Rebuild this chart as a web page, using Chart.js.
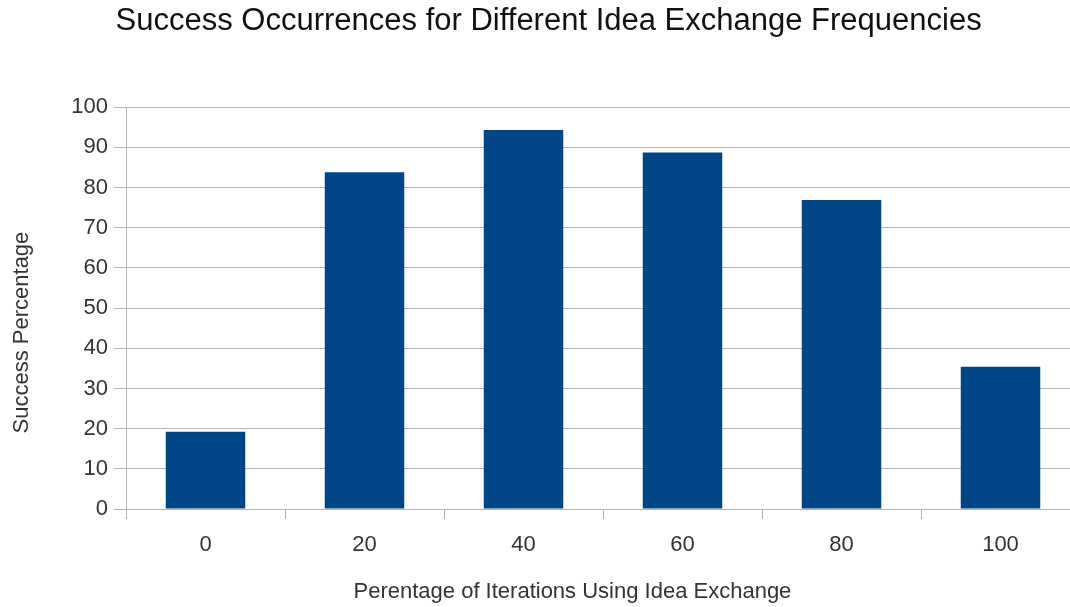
<!DOCTYPE html>
<html>
<head>
<meta charset="utf-8">
<script src="https://cdn.jsdelivr.net/npm/chart.js@4/dist/chart.umd.min.js"></script>
<style>
  html, body { margin: 0; padding: 0; background: #fff; overflow: hidden; }
  #wrap { width: 1080px; height: 607px; }
</style>
</head>
<body>
<div id="wrap"><canvas id="successChart" width="1080" height="607"></canvas></div>
<script>
// Data
const exchangeLevels = ["0", "20", "40", "60", "80", "100"];
const successPercent = [19.2, 83.8, 94.3, 88.7, 76.9, 35.4];
const yTicks = [0, 10, 20, 30, 40, 50, 60, 70, 80, 90, 100];

const barColor = "#004586";
const gridColor = "#b3b3b3";
const textColor = "#333333";
const fontFamily = "'Liberation Sans', Arial, sans-serif";

// trailing / leading spaces nudge the centred titles to where the reference has them
const chartTitle = "  Success Occurrences for Different Idea Exchange Frequencies";
const xTitle = "Perentage of Iterations Using Idea Exchange" + " ".repeat(10);
const yTitle = "Success Percentage" + " ".repeat(8);

const ctx = document.getElementById("successChart").getContext("2d");
new Chart(ctx, {
    type: "bar",
    data: {
        labels: exchangeLevels,
        datasets: [{
            label: "Success Percentage",
            data: successPercent,
            backgroundColor: barColor,
            borderWidth: 0,
            barPercentage: 0.5,
            categoryPercentage: 1.0,
        }],
    },
    options: {
        responsive: false,
        animation: false,
        layout: { padding: 0 },
        plugins: {
            legend: { display: false },
            tooltip: { enabled: false },
            title: {
                display: true,
                text: chartTitle,
                color: "#111",
                font: { family: fontFamily, size: 31, weight: "normal" },
                padding: { top: 3, bottom: 67 },
            },
        },
        scales: {
            x: {
                offset: true,
                grid: {
                    offset: true,
                    drawOnChartArea: false,
                    tickLength: 10,
                    color: gridColor,
                },
                border: { display: true, color: gridColor },
                ticks: {
                    color: textColor,
                    padding: 13,
                    font: { family: fontFamily, size: 22 },
                },
                title: {
                    display: true,
                    text: xTitle,
                    color: textColor,
                    font: { family: fontFamily, size: 22 },
                    padding: { top: 0, bottom: 2 },
                },
                afterFit: function (scale) { scale.height = 98; },
            },
            y: {
                min: 0,
                max: 100,
                afterBuildTicks: function (scale) {
                    scale.ticks = yTicks.map(v => ({ value: v }));
                },
                grid: {
                    color: gridColor,
                    tickLength: 12,
                },
                border: { display: true, color: gridColor },
                ticks: {
                    color: textColor,
                    padding: 6,
                    font: { family: fontFamily, size: 22 },
                },
                title: {
                    display: true,
                    text: yTitle,
                    color: textColor,
                    font: { family: fontFamily, size: 22 },
                    padding: { top: 9, bottom: 0 },
                },
                afterFit: function (scale) { scale.width = 126; },
            },
        },
    },
});
</script>
</body>
</html>
